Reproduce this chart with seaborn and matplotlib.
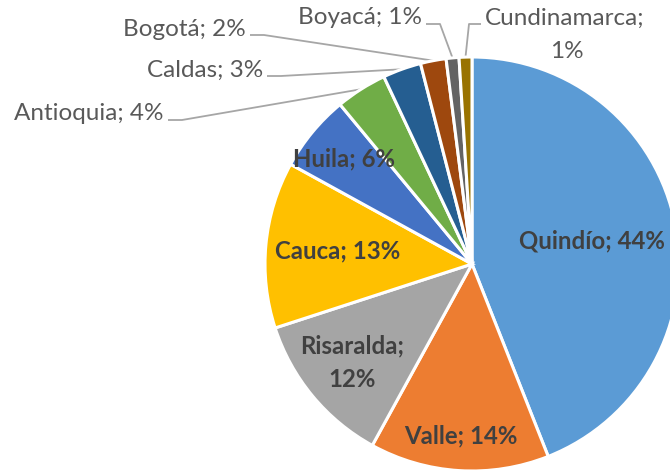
import numpy as np
import matplotlib
matplotlib.use("Agg")
import matplotlib.pyplot as plt
import seaborn as sns

# Share of records by department
departments = ["Quindío", "Valle", "Risaralda", "Cauca", "Huila",
               "Antioquia", "Caldas", "Bogotá", "Boyacá", "Cundinamarca"]
shares = [44, 14, 12, 13, 6, 4, 3, 2, 1, 1]
colors = ["#5B9BD5", "#ED7D31", "#A5A5A5", "#FFC000", "#4472C4",
          "#70AD47", "#255E91", "#9E480E", "#636363", "#997300"]

sns.set_theme(style="white")
plt.rcParams["font.family"] = ["Lato", "DejaVu Sans"]

W, H = 670, 470
fig = plt.figure(figsize=(W / 100, H / 100), dpi=100)
ax = fig.add_axes([0, 0, 1, 1])

cx, cy, R = 472, H - 264, 207
palette = sns.color_palette(colors)
wedges, _ = ax.pie(shares, colors=palette, startangle=90, counterclock=False,
                   center=(cx, cy), radius=R, frame=True,
                   wedgeprops=dict(edgecolor="white", linewidth=2.2))
ax.set_xlim(0, W)
ax.set_ylim(0, H)
ax.set_aspect("equal")
ax.axis("off")

FS_OUT = 17.5
FS_IN = 17.3
inner_col = "#404040"
outer_col = "#595959"
line_col = "#A6A6A6"

def mid_angle(w):
    return np.deg2rad((w.theta1 + w.theta2) / 2)

# Bold labels inside the larger slices: (radial fraction, text)
inner = {
    0: (0.59, "Quindío; 44%"),
    1: (0.83, "Valle; 14%"),
    2: (0.75, "Risaralda;\n12%"),
    3: (0.65, "Cauca; 13%"),
    4: (0.80, "Huila; 6%"),
}
for i, (frac, txt) in inner.items():
    a = mid_angle(wedges[i])
    ax.text(cx + frac * R * np.cos(a), cy + frac * R * np.sin(a), txt,
            ha="center", va="center", fontsize=FS_IN, fontweight="bold",
            color=inner_col, linespacing=1.55)

# Callout labels for the thin slices: index -> (text anchor x, y, side, text)
outer = {
    5: (164, H - 114, "right", "Antioquia; 4%"),
    6: (263, H - 70, "right", "Caldas; 3%"),
    7: (246, H - 29, "right", "Bogotá; 2%"),
    8: (422, H - 18, "right", "Boyacá; 1%"),
    9: (485, H - 18, "left", "Cundinamarca;"),
}
for i, (tx, ty, side, txt) in outer.items():
    ax.text(tx, ty, txt, ha=side, va="center", fontsize=FS_OUT, color=outer_col)
    a = mid_angle(wedges[i])
    ex, ey = cx + R * np.cos(a), cy + R * np.sin(a)
    sx = tx + 4 if side == "right" else tx - 4
    stub = sx + 14 if side == "right" else sx - 12
    ly = ty - 6
    ax.plot([sx, stub, ex], [ly, ly, ey], color=line_col, lw=1.3,
            solid_capstyle="butt", zorder=0)
ax.text(567, H - 52, "1%", ha="center", va="center", fontsize=FS_OUT, color=outer_col)

fig.savefig("out.png", dpi=100, facecolor="white")
